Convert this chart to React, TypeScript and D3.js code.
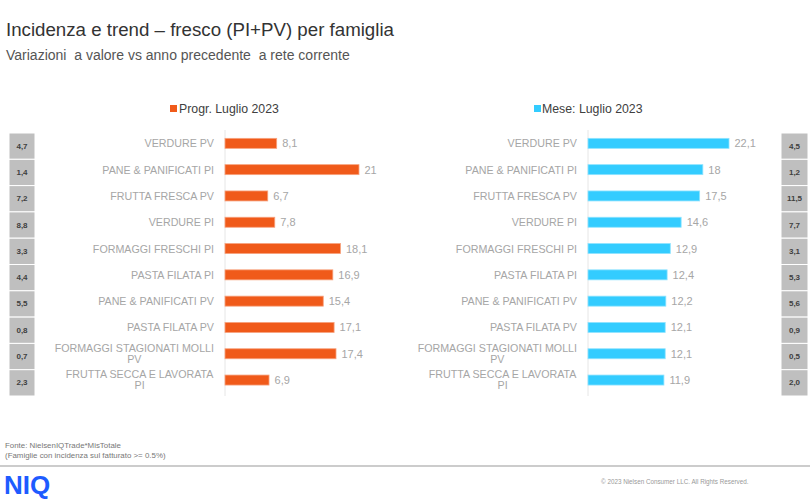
import React from "react";
import * as d3 from "d3";

const categories = [
  "VERDURE PV",
  "PANE & PANIFICATI PI",
  "FRUTTA FRESCA PV",
  "VERDURE PI",
  "FORMAGGI FRESCHI PI",
  "PASTA FILATA PI",
  "PANE & PANIFICATI PV",
  "PASTA FILATA PV",
  "FORMAGGI STAGIONATI MOLLI PV",
  "FRUTTA SECCA E LAVORATA PI",
];
const labelLines = [
  ["VERDURE PV"],
  ["PANE & PANIFICATI PI"],
  ["FRUTTA FRESCA PV"],
  ["VERDURE PI"],
  ["FORMAGGI FRESCHI PI"],
  ["PASTA FILATA PI"],
  ["PANE & PANIFICATI PV"],
  ["PASTA FILATA PV"],
  ["FORMAGGI STAGIONATI MOLLI", "PV"],
  ["FRUTTA SECCA E LAVORATA", "PI"],
];
const progrValues = [8.1, 21, 6.7, 7.8, 18.1, 16.9, 15.4, 17.1, 17.4, 6.9];
const meseValues = [22.1, 18, 17.5, 14.6, 12.9, 12.4, 12.2, 12.1, 12.1, 11.9];
const leftIncidence = [4.7, 1.4, 7.2, 8.8, 3.3, 4.4, 5.5, 0.8, 0.7, 2.3];
const rightIncidence = [4.5, 1.2, 11.5, 7.7, 3.1, 5.3, 5.6, 0.9, 0.5, 2.0];
const seriesNames = ["Progr. Luglio 2023", "Mese: Luglio 2023"];

const ORANGE = "#F05A1A";
const BLUE = "#33CCFF";
const LABEL = "#A6A6A6";
const FONT = "'Liberation Sans', Arial, sans-serif";

let ctx: CanvasRenderingContext2D | null = null;
function measure(text: string, size: number) {
  if (!ctx) ctx = document.createElement("canvas").getContext("2d");
  if (!ctx) return text.length * size * 0.55;
  ctx.font = `${size}px 'Liberation Sans', Arial, sans-serif`;
  return ctx.measureText(text).width;
}

const fmtVal = (v: number) => String(v).replace(".", ",");
const fmtBox = (v: number) => v.toFixed(1).replace(".", ",");

const SHIFT = -2.8;

function Panel({
  values,
  color,
  axisX,
  labelRight,
}: {
  values: number[];
  color: string;
  axisX: number;
  labelRight: number;
}) {
  const y = d3.scaleBand<string>().domain(categories).range([133, 396]).padding(0);
  const x = d3.scaleLinear().domain([0, 25]).range([axisX, axisX + 159.5]);
  const barH = 10;
  const fs = 10.7;
  return (
    <g>
      <line x1={axisX} x2={axisX} y1={130} y2={396} stroke="#E6E6E6" strokeWidth={1} />
      {categories.map((c, i) => {
        const cy = (y(c) as number) + y.bandwidth() / 2 + SHIFT;
        const lines = labelLines[i];
        const w = Math.max(...lines.map((l) => measure(l, fs)));
        const v = values[i];
        return (
          <g key={c}>
            <rect
              x={x(0)}
              y={cy - barH / 2}
              width={x(v) - x(0)}
              height={barH}
              fill={color}
              stroke={color === ORANGE ? "#F7A27E" : "#8FE3FF"}
              strokeWidth={0.8}
            />
            <text x={x(v) + 5.5} y={cy + 4} fontSize={11} fill={LABEL} fontFamily={FONT}>
              {fmtVal(v)}
            </text>
            {lines.length === 1 ? (
              <text x={labelRight} y={cy + 4} fontSize={fs} fill={LABEL} textAnchor="end" fontFamily={FONT}>
                {lines[0]}
              </text>
            ) : (
              lines.map((l, k) => (
                <text
                  key={k}
                  x={labelRight - w / 2}
                  y={cy - 2 + k * 11}
                  fontSize={fs}
                  fill={LABEL}
                  textAnchor="middle"
                  fontFamily={FONT}
                >
                  {l}
                </text>
              ))
            )}
          </g>
        );
      })}
    </g>
  );
}

function Boxes({ values, x0, w }: { values: number[]; x0: number; w: number }) {
  const y = d3.scaleBand<string>().domain(categories).range([133, 396]).padding(0);
  return (
    <g>
      {categories.map((c, i) => {
        const top = y(c) as number;
        return (
          <g key={c}>
            <rect x={x0} y={top} width={w} height={y.bandwidth()} fill="#BFBFBF" stroke="#FFFFFF" strokeWidth={1} />
            <text
              x={x0 + w / 2}
              y={top + y.bandwidth() / 2 + 2.5}
              fontSize={8}
              fontWeight="bold"
              fill="#404040"
              textAnchor="middle"
              fontFamily={FONT}
            >
              {fmtBox(values[i])}
            </text>
          </g>
        );
      })}
    </g>
  );
}

export default function App() {
  return (
    <div style={{ position: "absolute", left: 0, top: 0 }}>
      <svg width={810} height={500} style={{ display: "block", background: "#fff" }}>
        <text x={6} y={36} fontSize={18.7} fill="#333" fontFamily={FONT}>
          Incidenza e trend – fresco (PI+PV) per famiglia
        </text>
        <text x={6} y={60} fontSize={14} fill="#555" fontFamily={FONT} style={{ whiteSpace: "pre" }}>
          {"Variazioni  a valore vs anno precedente  a rete corrente"}
        </text>

        <rect x={170} y={105} width={7} height={7} fill={ORANGE} />
        <text x={179} y={113} fontSize={12.3} fill="#404040" fontFamily={FONT}>
          {seriesNames[0]}
        </text>
        <rect x={534} y={105} width={7} height={7} fill={BLUE} />
        <text x={542} y={113} fontSize={12.3} fill="#404040" fontFamily={FONT}>
          {seriesNames[1]}
        </text>

        <Boxes values={leftIncidence} x0={9} w={26} />
        <Boxes values={rightIncidence} x0={781} w={27} />
        <Panel values={progrValues} color={ORANGE} axisX={225} labelRight={214} />
        <Panel values={meseValues} color={BLUE} axisX={588} labelRight={577} />

        <text x={5} y={448} fontSize={7.9} fill="#777" fontFamily={FONT}>
          Fonte: NielsenIQTrade*MisTotale
        </text>
        <text x={5} y={458} fontSize={7.9} fill="#777" fontFamily={FONT}>
          (Famiglie con incidenza sul fatturato &gt;= 0.5%)
        </text>
        <line x1={0} x2={810} y1={466} y2={466} stroke="#999" strokeWidth={1} />
        <text x={4} y={494} fontSize={26} fontWeight="bold" fill="#1E5BFF" fontFamily={FONT}>
          NIQ
        </text>
        <text x={601} y={484} fontSize={6.3} fill="#999" fontFamily={FONT}>
          © 2023 Nielsen Consumer LLC. All Rights Reserved.
        </text>
      </svg>
    </div>
  );
}
